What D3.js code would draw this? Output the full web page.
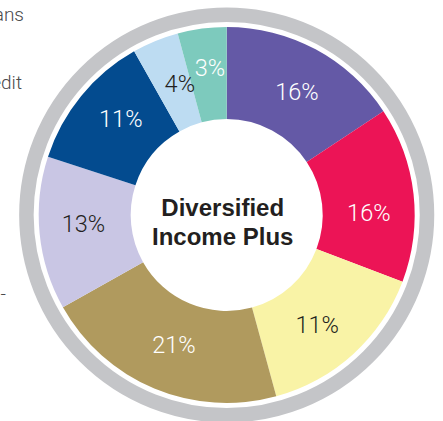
<!DOCTYPE html>
<html>
<head>
<meta charset="utf-8">
<script src="https://cdn.jsdelivr.net/npm/d3@7"></script>
<style>
  html, body { margin: 0; padding: 0; background: #fff; }
  svg { display: block; }
</style>
</head>
<body>
<div id="chart"></div>
<script>
// slice weights (angles), and the printed labels
const sliceValues = [15.7, 15.1, 15.0, 21.1, 13.2, 11.8, 4.0, 4.2];
const sliceLabels = ['16%', '16%', '11%', '21%', '13%', '11%', '4%', '3%'];
const sliceColors = ['#6459a6', '#ec1456', '#f9f3a6', '#b09a5e', '#c9c6e4', '#034b8f', '#bddcf2', '#7dcabd'];
const labelColors = ['#fff', '#fff', '#231f20', '#fff', '#231f20', '#fff', '#231f20', '#fff'];
const centerTitle = ['Diversified', 'Income Plus'];
// legend entries that are cut off at the left edge
const legendTexts = ['Loans', 'Credit', '-'];

const width = 443;
const height = 421;
const cx = 226.7;
const cy = 215;
const outerR = 188;
const innerR = 96;
const labelR = 142;
// small manual nudges so labels sit where the original placed them
const labelNudge = [[3, 2], [1, 13], [-5, 4], [2, -2], [-2, -5], [4, -7], [7, 0], [2, -7]];

const svg = d3.select('#chart').append('svg').attr('width', width).attr('height', height);

// legend fragments
svg.append('g')
  .attr('class', 'legend')
  .selectAll('text')
  .data(legendTexts)
  .enter()
  .append('text')
  .attr('x', (d, i) => [24, 22, 6][i])
  .attr('y', (d, i) => [21, 89, 300][i])
  .attr('text-anchor', 'end')
  .attr('font-family', 'Roboto, "Liberation Sans", sans-serif')
  .attr('font-weight', 300)
  .attr('font-size', '19px')
  .attr('fill', '#4a4a4c')
  .text((d) => d);

const base = svg.append('g').attr('transform', `translate(${cx},${cy})`);

// grey outer ring
base.append('circle')
  .attr('r', 200.3)
  .attr('fill', 'none')
  .attr('stroke', '#c4c5c8')
  .attr('stroke-width', 14.5);

const pie = d3.pie().sort(null).value((d) => d);
const arcs = pie(sliceValues);

const arc = d3.arc().innerRadius(innerR).outerRadius(outerR);
const labelArc = d3.arc().innerRadius(labelR).outerRadius(labelR);

base.append('g')
  .attr('class', 'slices')
  .selectAll('path')
  .data(arcs)
  .enter()
  .append('path')
  .attr('d', arc)
  .attr('fill', (d, i) => sliceColors[i]);

base.append('g')
  .attr('class', 'labels')
  .selectAll('text')
  .data(arcs)
  .enter()
  .append('text')
  .attr('transform', (d, i) => {
    const c = labelArc.centroid(d);
    return `translate(${c[0] + labelNudge[i][0]},${c[1] + labelNudge[i][1]})`;
  })
  .attr('dy', '0.36em')
  .attr('text-anchor', 'middle')
  .attr('font-family', 'Roboto, "Liberation Sans", sans-serif')
  .attr('font-weight', 300)
  .attr('font-size', '23.5px')
  .attr('fill', (d, i) => labelColors[i])
  .text((d, i) => sliceLabels[i]);

// centre title
base.append('g')
  .attr('class', 'title')
  .selectAll('text')
  .data(centerTitle)
  .enter()
  .append('text')
  .attr('x', -4)
  .attr('y', (d, i) => 1 + i * 29)
  .attr('text-anchor', 'middle')
  .attr('font-family', '"Liberation Sans", Arial, sans-serif')
  .attr('font-weight', 'bold')
  .attr('font-size', '24px')
  .attr('fill', '#231f20')
  .text((d) => d);
</script>
</body>
</html>
